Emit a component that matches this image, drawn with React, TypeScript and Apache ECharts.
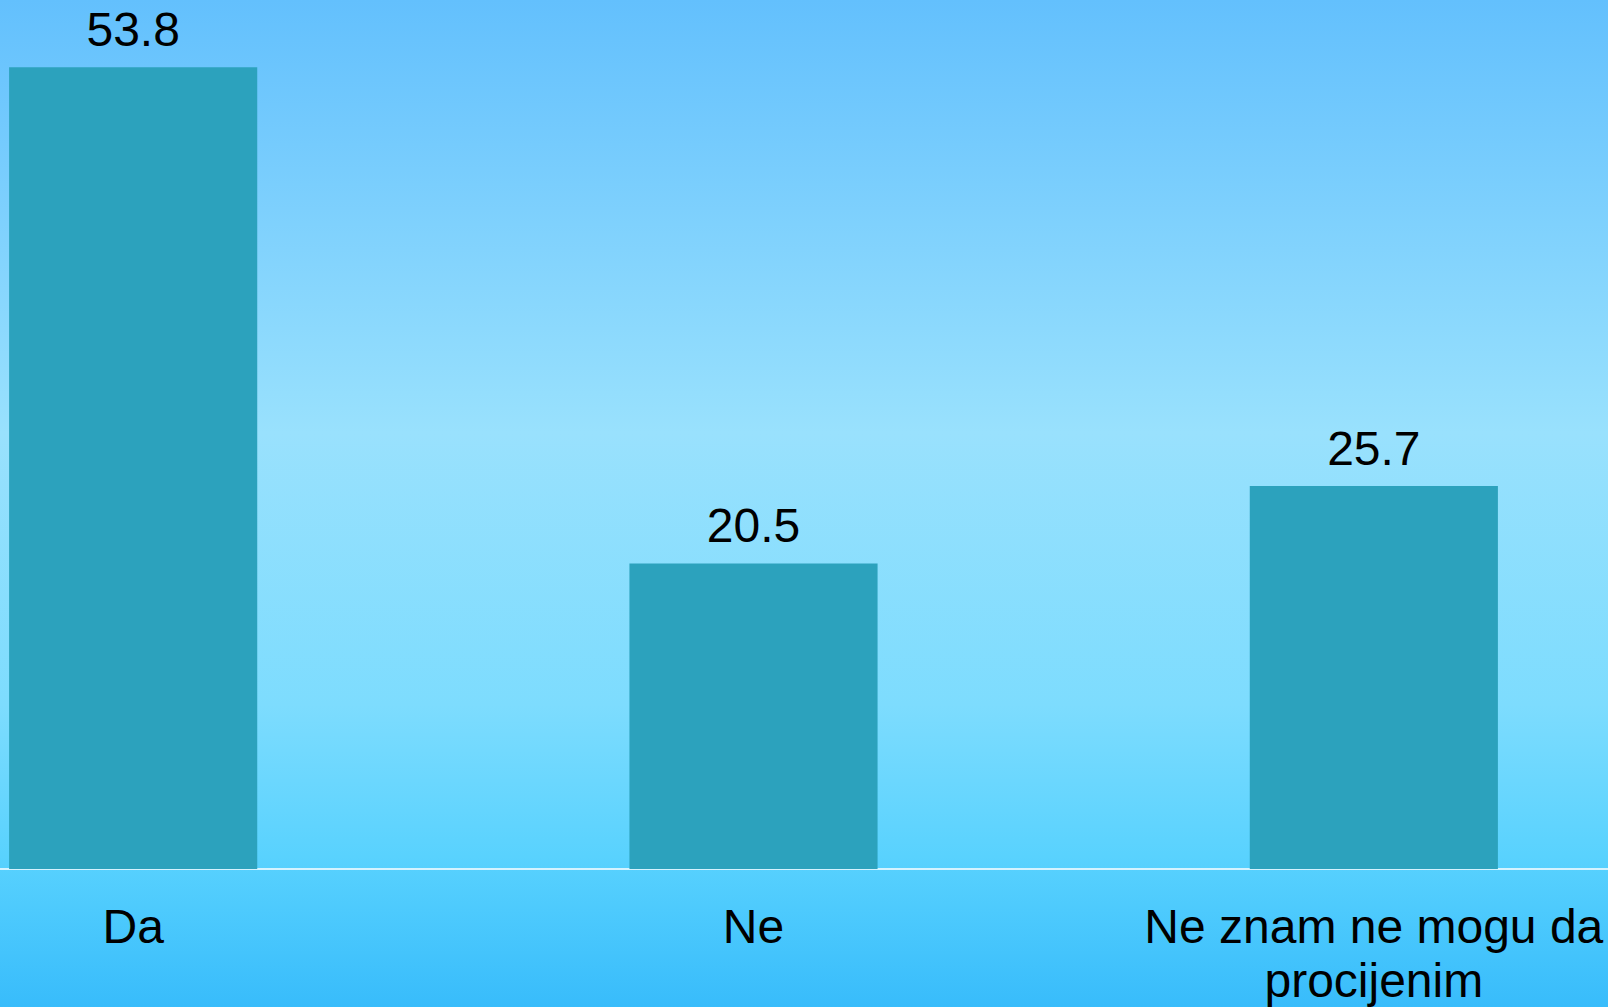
import React, { useEffect, useRef } from "react";
import * as echarts from "echarts";

const categories = ["Da", "Ne", "Ne znam ne mogu da\nprocijenim"];
const values = [53.8, 20.5, 25.7];

export default function App() {
  const ref = useRef<HTMLDivElement>(null);
  useEffect(() => {
    document.body.style.margin = "0";
    document.body.style.overflow = "hidden";
    const chart = echarts.init(ref.current!, null, { renderer: "svg" });
    chart.setOption({
      animation: false,
      backgroundColor: new echarts.graphic.LinearGradient(0, 0, 0, 1, [
        { offset: 0, color: "#63c0fd" },
        { offset: 0.43, color: "#99e1fd" },
        { offset: 0.7, color: "#7ddcfe" },
        { offset: 0.85, color: "#59d2fe" },
        { offset: 1, color: "#38bcfb" },
      ]),
      grid: { left: 0, right: 0, top: 4.7, bottom: 135 },
      xAxis: {
        type: "category",
        data: categories,
        axisTick: { show: false },
        axisLine: { lineStyle: { color: "#ffffff", width: 1.5 } },
        axisLabel: {
          color: "#000000",
          fontFamily: "Liberation Sans, Arial, sans-serif",
          fontSize: 48,
          lineHeight: 54,
          margin: 30,
          interval: 0,
        },
      },
      yAxis: {
        type: "value",
        min: 0,
        max: 58,
        show: false,
        splitLine: { show: false },
      },
      series: [
        {
          type: "bar",
          data: values,
          barWidth: "40%",
          itemStyle: { color: "#2ca2bd" },
          label: {
            show: true,
            position: "top",
            distance: 14,
            color: "#000000",
            fontFamily: "Liberation Sans, Arial, sans-serif",
            fontSize: 48,
            formatter: (p: any) => p.value.toFixed(1),
          },
        },
      ],
    });
    return () => chart.dispose();
  }, []);
  return (
    <div
      ref={ref}
      style={{ position: "absolute", left: -177, top: 0, width: 1861, height: 1007 }}
    />
  );
}
